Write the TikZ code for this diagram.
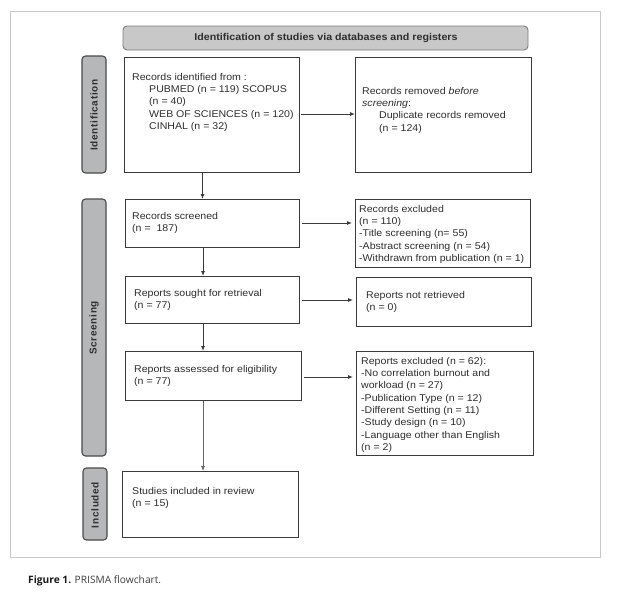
\documentclass[tikz,border=0pt]{standalone}
\usepackage{fontspec}
\setmainfont{Liberation Sans}[FakeStretch=1.08]
\newfontfamily\sidefont{Liberation Sans}[LetterSpace=7]
\newfontfamily\capfont{Open Sans}
\usetikzlibrary{arrows.meta,calc}
\definecolor{barfill}{HTML}{B6B7B9}
\definecolor{barline}{HTML}{4A4A4A}
\definecolor{headfill}{HTML}{C8C8C8}
\definecolor{headline}{HTML}{7A7A7A}
\definecolor{boxline}{HTML}{3A3A3A}
\definecolor{txtcol}{HTML}{2E2E2E}
\tikzset{
  box/.style={draw=boxline, line width=0.9pt},
  bar/.style={draw=barline, fill=barfill, line width=1.1pt, rounded corners=3.5pt},
  head/.style={draw=headline, fill=headfill, line width=0.9pt, rounded corners=4pt},
  txt/.style={anchor=north west, inner sep=0pt, align=left, text=txtcol,
              font=\fontsize{9.8}{12.3}\selectfont},
  sidelbl/.style={rotate=90, inner sep=0pt, text=txtcol, font=\sidefont\fontsize{10}{12}\selectfont\bfseries},
  arr/.style={-{Latex[length=5pt,width=4pt]}, line width=0.9pt, draw=boxline},
  arrg/.style={-{Latex[length=5pt,width=4pt]}, line width=0.7pt, draw=black!60},
}
\begin{document}
\begin{tikzpicture}[x=1pt,y=-1pt]
\useasboundingbox (0,0) rectangle (623,595);
\fill[white] (0,0) rectangle (623,595);
% outer frame
\draw[black!22, line width=0.8pt] (10,11) rectangle (600,557);
% header
\draw[head] (123,26) rectangle (528,50);
\node[font=\fontsize{9.9}{11}\selectfont\bfseries, text=txtcol] (hd) at (326,38) {Identification of studies via databases and registers};
% side bars
\draw[bar] (82,56) rectangle (106,173);
\node[sidelbl] (lid) at (94,115) {Identification};
\draw[bar] (82,199) rectangle (106,456);
\node[sidelbl] (lsc) at (94,328) {Screening};
\draw[bar] (83,468) rectangle (107,540);
\node[sidelbl] (lin) at (95,505) {Included};
% boxes
\node[box, minimum width=175pt, minimum height=115pt, inner sep=0, anchor=north west] (rec) at (124,57) {};
\node[box, minimum width=176pt, minimum height=115pt, inner sep=0, anchor=north west] (rem) at (355,57) {};
\node[box, minimum width=174pt, minimum height=48pt, inner sep=0, anchor=north west] (scr) at (125,199) {};
\node[box, minimum width=175pt, minimum height=68pt, inner sep=0, anchor=north west] (exc) at (355,199) {};
\node[box, minimum width=174pt, minimum height=47pt, inner sep=0, anchor=north west] (sou) at (125,276) {};
\node[box, minimum width=175pt, minimum height=49pt, inner sep=0, anchor=north west] (nre) at (356,277) {};
\node[box, minimum width=176pt, minimum height=49pt, inner sep=0, anchor=north west] (ass) at (125,351) {};
\node[box, minimum width=177pt, minimum height=104pt, inner sep=0, anchor=north west] (ex2) at (356,351) {};
\node[box, minimum width=176pt, minimum height=66pt, inner sep=0, anchor=north west] (stu) at (122,471) {};
% texts
\node[txt] (t1) at (132,73) {Records identified from :\\
\hspace*{17pt}PUBMED (n = 119) SCOPUS\\
\hspace*{17pt}(n = 40)\\
\hspace*{17pt}WEB OF SCIENCES (n = 120)\\
\hspace*{17pt}CINHAL (n = 32)};
\node[txt] (t2) at (362,87) {Records removed \textit{before}\\
\textit{screening}:\\
\hspace*{17pt}Duplicate records removed\\
\hspace*{17pt}(n = 124)};
\node[txt] (t3) at (132,212) {Records screened\\(n =\ \ 187)};
\node[txt] (t4) at (359,205) {Records excluded\\(n = 110)\\-Title screening (n= 55)\\-Abstract screening (n = 54)\\-Withdrawn from publication (n = 1)};
\node[txt] (t5) at (134,289) {Reports sought for retrieval\\(n = 77)};
\node[txt] (t6) at (366,291) {Reports not retrieved\\(n = 0)};
\node[txt] (t7) at (134,365) {Reports assessed for eligibility\\(n = 77)};
\node[txt] (t8) at (361,357) {Reports excluded (n = 62):\\-No correlation burnout and\\workload (n = 27)\\-Publication Type (n = 12)\\-Different Setting (n = 11)\\-Study design (n = 10)\\-Language other than English\\(n = 2)};
\node[txt] (t9) at (132,487) {Studies included in review\\(n = 15)};
% connectors
\coordinate (va) at (202.5,0);
\coordinate (vb) at (203,0);
\coordinate (h1) at (0,114);
\coordinate (h2) at (0,223);
\coordinate (h3) at (0,300);
\coordinate (h4) at (0,377);
\draw[arr] (rec.south -| va) -- (scr.north -| va);
\draw[arr] (scr.south -| vb) -- (sou.north -| vb);
\draw[arr] (sou.south -| vb) -- (ass.north -| vb);
\draw[arrg] (ass.south -| vb) -- (stu.north -| vb);
\draw[arr, shorten <=1pt] (rec.east |- h1) -- (rem.west |- h1);
\draw[arr, shorten <=2pt, shorten >=3pt] (scr.east |- h2) -- (exc.west |- h2);
\draw[arr, shorten <=2pt, shorten >=3pt] (sou.east |- h3) -- (nre.west |- h3);
\draw[arr, shorten <=2pt, shorten >=3pt] (ass.east |- h4) -- (ex2.west |- h4);
% caption
\node[anchor=west, inner sep=0, font=\capfont\fontsize{10.2}{12}\selectfont, text=black!75] (cap) at (28,581) {\textbf{\color{black!90}Figure 1.} PRISMA flowchart.};
\end{tikzpicture}
\end{document}
